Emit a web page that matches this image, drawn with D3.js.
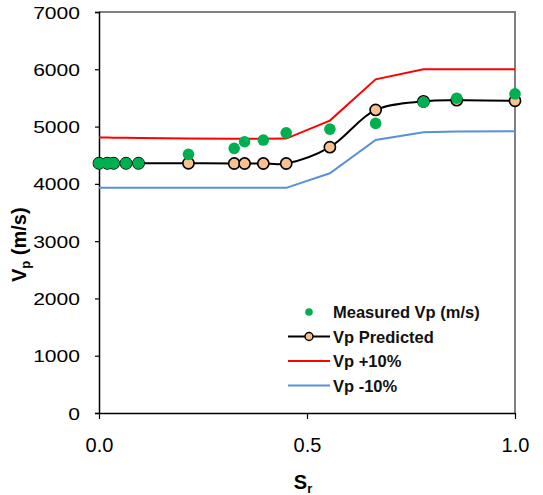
<!DOCTYPE html>
<html>
<head>
<meta charset="utf-8">
<script src="https://cdn.jsdelivr.net/npm/d3@7"></script>
<style>
  body { margin: 0; background: #fff; }
  svg { display: block; font-family: "Liberation Sans", Arial, sans-serif; }
</style>
</head>
<body>
<div id="chart"></div>
<script>
// saturation values (Sr) of the samples
const sr = [0, 0.02, 0.035, 0.065, 0.095, 0.215, 0.325, 0.35, 0.395, 0.45, 0.555, 0.665, 0.78, 0.86, 1.0]
const measuredVp = [4360, 4360, 4360, 4360, 4360, 4515, 4620, 4735, 4765, 4890, 4955, 5055, 5425, 5495, 5570]
const predictedVp = [4360, 4360, 4360, 4360, 4360, 4360, 4355, 4355, 4355, 4355, 4640, 5290, 5440, 5460, 5450]
const upperVp = [4810, 4808, 4806, 4804, 4800, 4792, 4788, 4788, 4788, 4790, 5105, 5825, 6000, 6000, 6000]
const lowerVp = [3930, 3930, 3930, 3930, 3930, 3930, 3930, 3930, 3930, 3930, 4185, 4765, 4900, 4915, 4920]

const yTicks = [0, 1000, 2000, 3000, 4000, 5000, 6000, 7000]
const xTicks = [0, 0.5, 1.0]

const legendItems = [
  { label: 'Measured Vp (m/s)', type: 'dot' },
  { label: 'Vp Predicted', type: 'lineMarker' },
  { label: 'Vp +10%', type: 'line', color: '#ff0000' },
  { label: 'Vp -10%', type: 'line', color: '#5b8fd9' }
]

const width = 543, height = 495
const svg = d3.select('#chart').append('svg')
    .attr('width', width)
    .attr('height', height)

const x = d3.scaleLinear().domain([0, 1]).range([99, 515])
const y = d3.scaleLinear().domain([0, 7000]).range([413, 12])

// plot frame: grey top/right, black axes drawn later
svg.append('path')
    .attr('d', `M${x(0)},${y(7000)}H${x(1)}V${y(0)}`)
    .attr('fill', 'none')
    .attr('stroke', '#808080')
    .attr('stroke-width', 2)

const yAxis = d3.axisLeft(y)
    .tickValues(yTicks)
    .tickSize(4)
    .tickFormat(d3.format('d'))
const gy = svg.append('g')
    .attr('transform', `translate(${x(0)},0)`)
    .call(yAxis)
gy.select('.domain').attr('stroke', '#000').attr('stroke-width', 1.5)
gy.selectAll('.tick line').attr('stroke', '#000').attr('stroke-width', 1.2)
gy.selectAll('.tick text')
    .attr('x', 0)
    .attr('dy', '0.36em')
    .attr('transform', 'translate(-19,0) scale(1.24,1)')
    .attr('font-size', 17)
    .attr('font-family', '"Liberation Sans", Arial, sans-serif')
    .attr('fill', '#000')

const xAxis = d3.axisBottom(x)
    .tickValues(xTicks)
    .tickSize(6)
    .tickSizeOuter(0)
    .tickFormat(d3.format('.1f'))
const gx = svg.append('g')
    .attr('transform', `translate(0,${y(0)})`)
    .call(xAxis)
gx.select('.domain').attr('stroke', '#000').attr('stroke-width', 1.5)
gx.selectAll('.tick line').attr('stroke', '#000').attr('stroke-width', 1.2)
gx.selectAll('.tick text')
    .attr('y', 25)
    .attr('dy', '0.71em')
    .attr('font-size', 20)
    .attr('font-family', '"Liberation Sans", Arial, sans-serif')
    .attr('fill', '#000')

// axis titles
const yTitle = svg.append('text')
    .attr('transform', 'translate(26,282) rotate(-90)')
    .attr('font-size', 20)
    .attr('font-weight', 'bold')
yTitle.append('tspan').text('V')
yTitle.append('tspan').attr('font-size', 13).attr('dy', 4).text('p')
yTitle.append('tspan').attr('dy', -4).text(' (m/s)')

const xTitle = svg.append('text')
    .attr('x', 303)
    .attr('y', 489)
    .attr('text-anchor', 'middle')
    .attr('font-size', 20)
    .attr('font-weight', 'bold')
xTitle.append('tspan').text('S')
xTitle.append('tspan').attr('font-size', 13).attr('dy', 4).text('r')

// series
const straight = d3.line()
    .x((d, i) => x(sr[i]))
    .y(d => y(d))
const smooth = d3.line()
    .x((d, i) => x(sr[i]))
    .y(d => y(d))
    .curve(d3.curveCatmullRom.alpha(0.5))

svg.append('path')
    .datum(upperVp)
    .attr('d', straight)
    .attr('fill', 'none')
    .attr('stroke', '#ff0000')
    .attr('stroke-width', 2)
svg.append('path')
    .datum(lowerVp)
    .attr('d', straight)
    .attr('fill', 'none')
    .attr('stroke', '#5b8fd9')
    .attr('stroke-width', 2)
svg.append('path')
    .datum(predictedVp)
    .attr('d', smooth)
    .attr('fill', 'none')
    .attr('stroke', '#000')
    .attr('stroke-width', 2)

svg.append('g').selectAll('circle')
    .data(predictedVp)
    .enter().append('circle')
    .attr('cx', (d, i) => x(sr[i]))
    .attr('cy', d => y(d))
    .attr('r', 5.6)
    .attr('fill', '#fac090')
    .attr('stroke', '#000')
    .attr('stroke-width', 1.6)

svg.append('g').selectAll('circle')
    .data(measuredVp)
    .enter().append('circle')
    .attr('cx', (d, i) => x(sr[i]))
    .attr('cy', d => y(d))
    .attr('r', 5.8)
    .attr('fill', '#00b050')

// legend
const legend = svg.append('g')
legendItems.forEach((item, i) => {
  const cy = 312 + i * 24.5
  const row = legend.append('g')
  if (item.type === 'dot') {
    row.append('circle').attr('cx', 309).attr('cy', cy).attr('r', 3.8).attr('fill', '#00b050')
  } else {
    row.append('line')
        .attr('x1', 288).attr('x2', 330)
        .attr('y1', cy).attr('y2', cy)
        .attr('stroke', item.color || '#000')
        .attr('stroke-width', 2)
    if (item.type === 'lineMarker') {
      row.append('circle').attr('cx', 309).attr('cy', cy).attr('r', 4)
          .attr('fill', '#fac090').attr('stroke', '#000').attr('stroke-width', 1.5)
    }
  }
  row.append('text')
      .attr('x', 333)
      .attr('y', cy + 6)
      .attr('font-size', 16.5)
      .attr('font-weight', 'bold')
      .attr('fill', '#111')
      .text(item.label)
})
</script>
</body>
</html>
